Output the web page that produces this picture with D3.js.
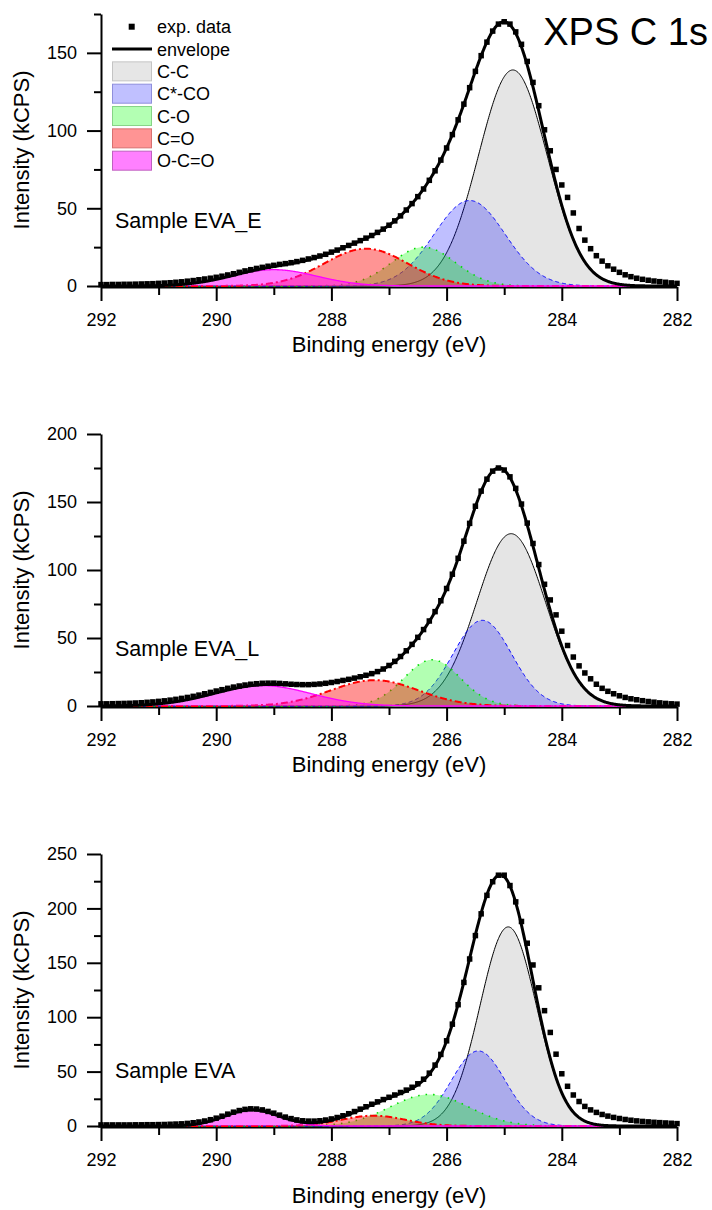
<!DOCTYPE html>
<html>
<head>
<meta charset="utf-8">
<title>XPS C 1s</title>
<script src="https://cdn.jsdelivr.net/npm/d3@7/dist/d3.min.js"></script>
<style>
  body { margin: 0; background: #fff; }
  svg text { font-family: "Liberation Sans", Arial, sans-serif; fill: #000; }
</style>
</head>
<body>
<svg id="chart" width="712" height="1210"></svg>
<script>
// binding energy of the measured points, 292 -> 282 eV in 0.1 eV steps
var energies = d3.range(0, 101).map(function(i) { return +(292 - i / 10).toFixed(1); });

var peakNames = ["C-C", "C*-CO", "C-O", "C=O", "O-C=O"];
var sampleNames = ["Sample EVA_E", "Sample EVA_L", "Sample EVA"];
var yMax = [175, 200, 250];
var xMajor = [292, 290, 288, 286, 284, 282];
var xMinor = [291, 289, 287, 285, 283];

// exp. data (kCPS), same order as energies
var expEVA_E = [
  0.9, 0.9, 1.0, 1.0, 1.1, 1.1, 1.2, 1.3, 1.4, 1.5,
  1.7, 1.9, 2.1, 2.4, 2.7, 3.1, 3.5, 4.0, 4.5, 5.0,
  5.6, 6.3, 7.1, 7.9, 8.8, 9.7, 10.5, 11.3, 12.0, 12.7,
  13.3, 13.9, 14.4, 15.0, 15.7, 16.5, 17.4, 18.3, 19.3, 20.4,
  21.8, 23.1, 24.6, 26.1, 27.6, 29.2, 30.8, 32.5, 34.5, 36.6,
  39.1, 41.9, 45.1, 48.9, 53.0, 57.5, 62.4, 68.0, 74.1, 81.0,
  88.8, 97.4, 106.9, 117.0, 127.6, 138.1, 148.2, 156.9, 164.0, 168.5,
  170.0, 168.5, 163.5, 155.5, 144.5, 131.0, 116.0, 100.5, 87.0, 75.0,
  65.0, 57.0, 47.0, 37.0, 29.5, 24.0, 19.5, 16.0, 13.0, 10.8,
  8.8, 7.2, 6.0, 5.0, 4.3, 3.7, 3.2, 2.8, 2.4, 2.0,
  1.7
];
var expEVA_L = [
  1.6, 1.6, 1.7, 1.8, 1.9, 2.0, 2.2, 2.4, 2.7, 3.0,
  3.4, 3.8, 4.3, 4.9, 5.6, 6.3, 7.1, 8.0, 9.0, 10.0,
  11.0, 12.0, 13.0, 13.9, 14.7, 15.4, 16.0, 16.4, 16.7, 16.8,
  16.8, 16.6, 16.3, 16.0, 15.8, 15.7, 15.7, 15.9, 16.2, 16.7,
  17.3, 18.0, 18.8, 19.6, 20.5, 21.5, 22.6, 23.8, 25.3, 27.2,
  29.8, 32.8, 36.4, 40.6, 45.3, 50.5, 56.2, 62.5, 69.4, 77.4,
  86.4, 96.9, 108.6, 121.2, 134.3, 146.9, 158.0, 166.8, 172.7, 175.0,
  173.5, 168.5, 160.0, 148.5, 134.5, 119.5, 104.0, 89.5, 78.0, 67.0,
  55.0, 44.5, 36.0, 29.5, 24.3, 20.0, 16.0, 13.0, 10.8, 9.0,
  7.5, 6.3, 5.3, 4.6, 3.9, 3.3, 2.8, 2.3, 1.9, 1.6,
  1.4
];
var expEVA = [
  1.0, 1.0, 1.0, 1.0, 1.0, 1.0, 1.1, 1.1, 1.2, 1.2,
  1.3, 1.4, 1.6, 1.8, 2.0, 2.4, 3.0, 3.7, 4.6, 5.8,
  7.2, 9.0, 10.9, 12.7, 14.2, 15.3, 15.8, 15.6, 14.8, 13.4,
  11.8, 10.0, 8.2, 6.8, 5.6, 4.8, 4.5, 4.5, 4.8, 5.5,
  6.5, 7.8, 9.4, 11.3, 13.3, 15.5, 17.7, 20.0, 22.2, 24.3,
  26.4, 28.5, 30.8, 33.0, 35.6, 38.8, 43.0, 48.6, 56.0, 65.8,
  78.3, 93.6, 111.5, 132.0, 153.5, 175.0, 195.0, 212.0, 224.5, 230.5,
  230.5, 221.0, 206.0, 188.0, 168.0, 148.0, 127.0, 106.0, 86.0, 66.0,
  48.0, 36.5, 28.5, 22.5, 18.0, 14.8, 12.5, 10.6, 9.1, 7.9,
  6.9, 6.0, 5.3, 4.7, 4.2, 3.8, 3.4, 3.1, 2.8, 2.5,
  2.2
];

// fitted components: position (eV), height (kCPS), FWHM (eV), order as peakNames
var centersEVA_E = [284.85, 285.6, 286.4, 287.4, 289.0];
var heightsEVA_E = [139, 55, 25, 24, 10.5];
var fwhmEVA_E = [1.4, 1.45, 1.3, 1.7, 1.75];

var centersEVA_L = [284.88, 285.38, 286.25, 287.25, 289.2];
var heightsEVA_L = [126.7, 63, 34, 19, 15];
var fwhmEVA_L = [1.4, 1.2, 1.15, 1.79, 2.0];

var centersEVA = [284.93, 285.45, 286.3, 287.27, 289.38];
var heightsEVA = [183, 69, 29, 9.5, 15];
var fwhmEVA = [1.15, 1.1, 1.6, 1.3, 1.1];

// styles
var peakFill = ["#000000", "#0000ff", "#00ff00", "#ff0000", "#ff00ff"];
var peakAlpha = [0.1, 0.25, 0.3, 0.42, 0.5];
var peakStroke = ["#000000", "#0000ff", "#00dd00", "#ff0000", "#ff00ff"];
var peakDash = [null, "4,3", "1.5,6", "7,3,2,3", null];
var peakWidth = [1, 1, 1.6, 2, 1.3];
var swatchFill = ["#e6e6e6", "#c0c0ff", "#b3ffb3", "#ff9494", "#ff80ff"];
var swatchStroke = ["#c4c4c4", "#8f8fdc", "#86d486", "#d87070", "#c060c0"];
// per panel text placement
var xTitleGap = [66, 66, 77];
var labelLift = [0, 0, 8];

var svg = d3.select("#chart");
var x = d3.scaleLinear().domain([292, 282]).range([101, 677]);
var fine = d3.range(0, 1001).map(function(i) { return 292 - i / 100; });

function peak(e, c, h, w) {
  return h * Math.exp(-4 * Math.LN2 * Math.pow((e - c) / w, 2));
}

function styleAxis(a) {
  a.attr("font-family", "'Liberation Sans', Arial, sans-serif").attr("font-size", 18);
  a.select(".domain").attr("stroke-width", 2);
  a.selectAll(".tick line").attr("stroke-width", 2);
  a.selectAll(".tick text").attr("fill", "#000");
}

function drawPanel(idx, exp, centers, heights, fwhm) {
  var top = 14 + idx * 420, base = 286 + idx * 420;
  var y = d3.scaleLinear().domain([0, yMax[idx]]).range([base, top]);
  var g = svg.append("g");

  // axes first, curves go over them like in the original
  var ax = g.append("g").attr("transform", "translate(0," + (base + 1) + ")");
  ax.call(d3.axisBottom(x).tickValues(xMajor).tickSize(14).tickPadding(12).tickSizeOuter(0));
  styleAxis(ax);
  var axm = g.append("g").attr("transform", "translate(0," + (base + 1) + ")");
  axm.call(d3.axisBottom(x).tickValues(xMinor).tickSize(8).tickFormat("").tickSizeOuter(0));
  styleAxis(axm);
  axm.select(".domain").remove();

  var ay = g.append("g").attr("transform", "translate(" + x(292) + ",0)");
  ay.call(d3.axisLeft(y).tickValues(d3.range(0, yMax[idx] + 1, 50)).tickSize(14).tickPadding(10).tickSizeOuter(0));
  styleAxis(ay);
  var aym = g.append("g").attr("transform", "translate(" + x(292) + ",0)");
  aym.call(d3.axisLeft(y).tickValues(d3.range(25, yMax[idx] + 1, 50)).tickSize(7).tickFormat("").tickSizeOuter(0));
  styleAxis(aym);
  aym.select(".domain").remove();

  g.append("text")
    .attr("x", (x(292) + x(282)) / 2)
    .attr("y", base + xTitleGap[idx])
    .attr("text-anchor", "middle")
    .attr("font-size", 22)
    .text("Binding energy (eV)");

  g.append("text")
    .attr("transform", "translate(29," + ((top + base) / 2) + ") rotate(-90)")
    .attr("text-anchor", "middle")
    .attr("font-size", 22)
    .text("Intensity (kCPS)");

  g.append("text")
    .attr("x", 115)
    .attr("y", y(37) - labelLift[idx])
    .attr("font-size", 21.5)
    .text(sampleNames[idx]);

  var area = d3.area().x(function(d) { return x(d[0]); }).y0(y(0)).y1(function(d) { return y(d[1]); });
  var line = d3.line().x(function(d) { return x(d[0]); }).y(function(d) { return y(d[1]); });

  var comps = centers.map(function(c, k) {
    return fine.map(function(e) { return [e, peak(e, c, heights[k], fwhm[k])]; });
  });

  comps.forEach(function(pts, k) {
    g.append("path")
      .attr("d", area(pts))
      .attr("fill", peakFill[k])
      .attr("fill-opacity", peakAlpha[k])
      .attr("stroke", "none");
    g.append("path")
      .attr("d", line(pts))
      .attr("fill", "none")
      .attr("stroke", peakStroke[k])
      .attr("stroke-width", peakWidth[k])
      .attr("stroke-dasharray", peakDash[k]);
  });

  // exp. data
  g.selectAll("rect.exp").data(exp).enter().append("rect")
    .attr("class", "exp")
    .attr("x", function(d, j) { return x(energies[j]) - 2.75; })
    .attr("y", function(d) { return y(d) - 2.75; })
    .attr("width", 5.5)
    .attr("height", 5.5)
    .attr("fill", "#000");

  // envelope = sum of the components
  var env = fine.map(function(e, j) { return [e, d3.sum(comps, function(c) { return c[j][1]; })]; });
  g.append("path")
    .attr("d", line(env))
    .attr("fill", "none")
    .attr("stroke", "#000")
    .attr("stroke-width", 3);
}

drawPanel(0, expEVA_E, centersEVA_E, heightsEVA_E, fwhmEVA_E);
drawPanel(1, expEVA_L, centersEVA_L, heightsEVA_L, fwhmEVA_L);
drawPanel(2, expEVA, centersEVA, heightsEVA, fwhmEVA);

// title
svg.append("text")
  .attr("x", 708)
  .attr("y", 45)
  .attr("text-anchor", "end")
  .attr("font-size", 38)
  .text("XPS C 1s");

// legend
var legend = svg.append("g").attr("font-size", 18);
var rowTop = 26.7, rowStep = 22.33;

legend.append("rect")
  .attr("x", 131.7 - 3).attr("y", rowTop - 3)
  .attr("width", 6).attr("height", 6)
  .attr("fill", "#000");
legend.append("text").attr("x", 157).attr("y", rowTop + 6.5).text("exp. data");

legend.append("line")
  .attr("x1", 112).attr("x2", 152)
  .attr("y1", rowTop + rowStep).attr("y2", rowTop + rowStep)
  .attr("stroke", "#000").attr("stroke-width", 3);
legend.append("text").attr("x", 157).attr("y", rowTop + rowStep + 6.5).text("envelope");

peakNames.forEach(function(name, k) {
  var cy = rowTop + rowStep * (k + 2);
  legend.append("rect")
    .attr("x", 112.5).attr("y", cy - 9.5)
    .attr("width", 39).attr("height", 19)
    .attr("fill", swatchFill[k])
    .attr("stroke", swatchStroke[k])
    .attr("stroke-width", 1);
  legend.append("text").attr("x", 157).attr("y", cy + 6.5).text(name);
});
</script>
</body>
</html>
